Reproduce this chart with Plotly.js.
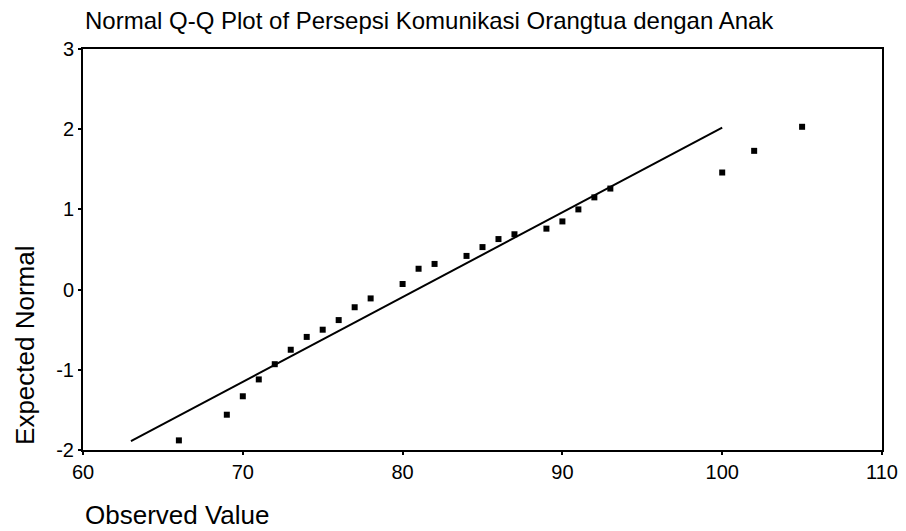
<!DOCTYPE html>
<html>
<head>
<meta charset="utf-8">
<script src="https://cdn.plot.ly/plotly-3.0.1.min.js"></script>
<style>html,body{margin:0;padding:0;background:#fff;}#chart{width:906px;height:531px;}</style>
</head>
<body>
<div id="chart"></div>
<script>
var observed = [66, 69, 70, 71, 72, 73, 74, 75, 76, 77, 78, 80, 81, 82, 84, 85, 86, 87, 89, 90, 91, 92, 93, 100, 102, 105];
var expected = [-1.88, -1.56, -1.33, -1.12, -0.93, -0.75, -0.59, -0.50, -0.38, -0.22, -0.11, 0.07, 0.26, 0.32, 0.42, 0.53, 0.63, 0.69, 0.76, 0.85, 1.00, 1.15, 1.26, 1.46, 1.73, 2.03];
var lineX = [63, 100];
var lineY = [-1.89, 2.02];
var xTicks = [60, 70, 80, 90, 100, 110];
var yTicks = [-2, -1, 0, 1, 2, 3];
var titleText = "Normal Q-Q Plot of Persepsi Komunikasi Orangtua dengan Anak";
var xTitle = "Observed Value";
var yTitle = "Expected Normal";

var FONT = "Liberation Sans, Arial, sans-serif";

var traces = [
  {x: lineX, y: lineY, mode: "lines", type: "scatter", line: {color: "#000", width: 2}, hoverinfo: "skip"},
  {x: observed, y: expected, mode: "markers", type: "scatter",
   marker: {symbol: "square", size: 6, color: "#000"}}
];

var layout = {
  width: 906, height: 531,
  margin: {l: 83, r: 24, t: 49, b: 81},
  paper_bgcolor: "#fff", plot_bgcolor: "#fff",
  showlegend: false,
  font: {family: FONT, color: "#000"},
  xaxis: {
    range: [60, 110], tickvals: xTicks, ticktext: xTicks.map(String),
    showgrid: false, zeroline: false,
    showline: true, linecolor: "#000", linewidth: 2, mirror: true,
    ticks: "outside", ticklen: 3, tickwidth: 2, tickcolor: "#000",
    tickfont: {family: FONT, size: 20, color: "#000"}
  },
  yaxis: {
    range: [-2, 3], tickvals: yTicks, ticktext: yTicks.map(String),
    showgrid: false, zeroline: false,
    showline: true, linecolor: "#000", linewidth: 2, mirror: true,
    ticks: "outside", ticklen: 3, tickwidth: 2, tickcolor: "#000",
    tickfont: {family: FONT, size: 20, color: "#000"}
  },
  annotations: [
    {text: titleText, xref: "paper", yref: "paper", x: 0, y: 1.072, xanchor: "left", yanchor: "middle",
     showarrow: false, font: {family: FONT, size: 24, color: "#000"}},
    {text: yTitle, xref: "paper", yref: "paper", x: -0.0726, y: 0.262, xanchor: "center", yanchor: "middle",
     textangle: -90, showarrow: false, font: {family: FONT, size: 26, color: "#000"}},
    {text: xTitle, xref: "paper", yref: "paper", x: 0, y: -0.162, xanchor: "left", yanchor: "middle",
     showarrow: false, font: {family: FONT, size: 26, color: "#000"}}
  ]
};

Plotly.newPlot("chart", traces, layout, {displayModeBar: false, staticPlot: true});
</script>
</body>
</html>
